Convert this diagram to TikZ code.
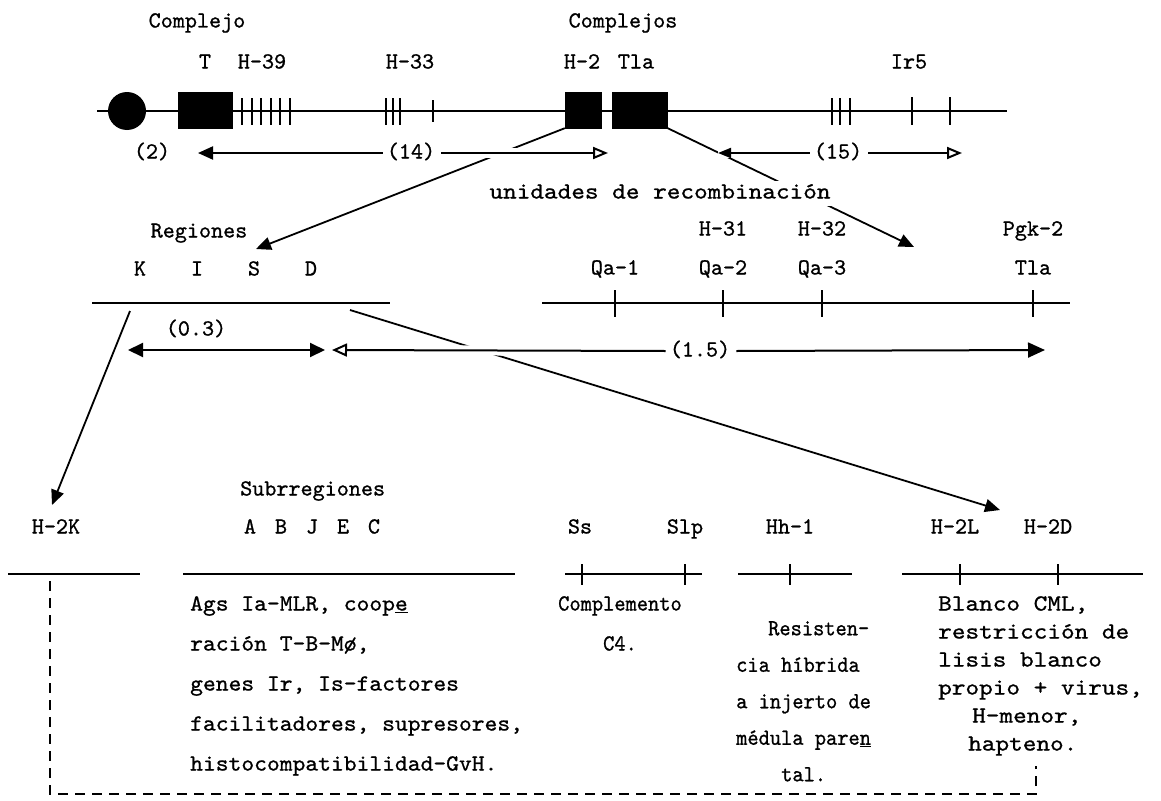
\documentclass[tikz,border=0pt]{standalone}
\usepackage{fontspec}
\usetikzlibrary{arrows.meta,backgrounds}
% typewriter faces, inked a little heavier, at several set widths
\newfontfamily\twN{lmmono10-regular.otf}[RawFeature={embolden=0.9}]
\newfontfamily\twNarrow{lmmono10-regular.otf}[FakeStretch=0.93,RawFeature={embolden=0.9}]
\newfontfamily\twWide{lmmono10-regular.otf}[FakeStretch=1.06,RawFeature={embolden=0.9}]
\newfontfamily\twWider{lmmono10-regular.otf}[FakeStretch=1.13,RawFeature={embolden=0.9}]
\begin{document}
\begin{tikzpicture}[x=1pt,y=-1pt,
  lbl/.style={font=\twN\fontsize{23}{28}\selectfont, inner sep=0pt, text height=16pt, text depth=5pt},
  blk/.style={inner sep=0pt, anchor=north west, align=left},
  chrom/.style={line width=2.4pt},
  genebox/.style={fill=black, draw=black, minimum height=36pt, inner sep=0pt},
  tickmark/.style={line width=2.6pt},
  conn/.style={line width=1.8pt},
  tipfull/.style={-{Triangle[length=15pt,width=13pt]}},
  arr/.style={line width=2pt},
  halo/.style={preaction={draw=white, line width=10pt, -}},
  dashline/.style={line width=1.6pt, dash pattern=on 10pt off 7pt}
]
\useasboundingbox (0,0) rectangle (1161,800);

% ---------- chromosome 17 ----------
\node[lbl] (cx1) at (197,22) {Complejo};
\node[lbl] (cx2) at (623,22) {Complejos};
\node[lbl] (lT)   at (205,63) {T};
\node[lbl] (lH39) at (262,63) {H-39};
\node[lbl] (lH33) at (410,63) {H-33};
\node[lbl] (lH2)  at (582,63) {H-2};
\node[lbl] (lTla) at (636,63) {Tla};
\node[lbl] (lIr5) at (909,63) {Ir5};

\draw[chrom] (97,111) -- (1007,111);
\node[circle, fill=black, minimum size=38pt, inner sep=0pt] (cen) at (127,111) {};
\node[genebox, minimum width=54pt] (gT) at (205,110) {};
\node[genebox, minimum width=36pt] (gH2) at (583,110) {};
\node[genebox, minimum width=55pt] (gTla) at (640,110) {};
\foreach \x in {242,252,261,271,280,290} \draw[tickmark] (\x,98) -- (\x,125);
\foreach \x in {386,393,400} \draw[tickmark] (\x,98) -- (\x,125);
\draw[tickmark, line width=1.6pt] (433,100) -- (433,122);
\foreach \x in {832,840,850} \draw[tickmark] (\x,98) -- (\x,125);
\foreach \x in {912,950} \draw[tickmark] (\x,97) -- (\x,125);

% distances (cM)
\node[lbl] (d2)  at (152,153) {(2)};
\node[lbl] (d14) at (411,153) {(14)};
\node[lbl] (d15) at (838,153) {(15)};
\coordinate (a14l) at (198,153);
\coordinate (a14r) at (608,153);
\coordinate (a15l) at (718,153);
\coordinate (a15r) at (962,153);

\node[lbl, font=\twWider\fontsize{23}{28}\selectfont, fill=white, inner sep=2pt] (unid) at (660,193) {unidades de recombinación};

% ---------- H-2 regions ----------
\node[lbl] (reg) at (199,232) {Regiones};
\node[lbl] (rK) at (140,270) {K};
\node[lbl] (rI) at (197,270) {I};
\node[lbl] (rS) at (254,270) {S};
\node[lbl] (rD) at (311,270) {D};
\draw[chrom] (92,303) -- (390,303);
\node[lbl] (d03) at (196,330) {(0.3)};
\coordinate (a03l) at (128,350);
\coordinate (a03r) at (325,350);
\draw[arr, {Triangle[length=15pt,width=14pt]}-{Triangle[length=15pt,width=14pt]}] (a03l) -- (a03r);

\node[lbl] (lH31) at (723,230) {H-31};
\node[lbl] (lH32) at (822,230) {H-32};
\node[lbl] (lPgk) at (1033,230) {Pgk-2};
\node[lbl] (lQa1) at (615,269) {Qa-1};
\node[lbl] (lQa2) at (723,269) {Qa-2};
\node[lbl] (lQa3) at (822,269) {Qa-3};
\node[lbl] (lTlb) at (1033,269) {Tla};
\draw[chrom] (542,303) -- (1070,303);
\foreach \x in {615,723,822,1033} \draw[tickmark] (\x,290) -- (\x,317);

\node[lbl] (d15b) at (700,351) {(1.5)};
\coordinate (a15bl) at (332,350);
\coordinate (a15br) at (1045,350);

% ---------- H-2 subregions and loci ----------
\node[lbl] (h2k) at (56,528) {H-2K};
\draw[chrom] (8,574) -- (140,574);
\node[lbl, anchor=west] (sub) at (240,490) {Subrregiones};
\foreach \c [count=\i from 0] in {A,B,J,E,C}
  \node[lbl] (sr\c) at (250+31*\i,528) {\c};
\draw[chrom] (183,574) -- (515,574);

\node[lbl] (lSs)  at (580,528) {Ss};
\node[lbl] (lSlp) at (685,528) {Slp};
\node[lbl] (lHh)  at (790,528) {Hh-1};
\node[lbl] (lH2L) at (955,528) {H-2L};
\node[lbl] (lH2D) at (1048,528) {H-2D};
\draw[chrom] (565,574) -- (702,574);
\draw[chrom] (738,574) -- (852,574);
\draw[chrom] (902,574) -- (1143,574);
\foreach \x in {582,685,790,960,1058} \draw[tickmark] (\x,564) -- (\x,585);

\node[blk, font=\twWide\fontsize{23}{40}\selectfont] (fI) at (190,596)
  {Ags Ia-MLR, coop\underline{e}\\ración T-B-M\o,\\genes Ir, Is-factores\\facilitadores, supresores,\\histocompatibilidad-GvH.};
\node[blk, font=\twNarrow\fontsize{23}{40}\selectfont, align=center, anchor=north] (fS) at (620,596)
  {Complemento\\C4.};
\node[blk, font=\twNarrow\fontsize{23}{36.5}\selectfont] (fH) at (736,621)
  {\hspace*{32pt}Resisten-\\cia híbrida\\a injerto de\\médula pare\underline{n}\\\hspace*{45pt}tal.};
\node[blk, font=\twWider\fontsize{23}{28}\selectfont] (fD) at (938,596)
  {Blanco CML,\\restricción de\\lisis blanco\\propio + virus,\\\hspace*{34pt}H-menor,\\\hspace*{30pt}hapteno.};

% connectors between levels
\coordinate (tS)   at (256,249);
\coordinate (tPgk) at (914,247);
\coordinate (kfoot) at (130,311);
\coordinate (tH2K) at (52,505);
\coordinate (dfoot) at (350,310);
\coordinate (tH2D) at (1000,510);
\begin{scope}[on background layer]
  \draw[conn, tipfull] (gH2.south west) -- (tS);
  \draw[conn, tipfull] (gTla.south east) -- (tPgk);
  \draw[conn, tipfull] (kfoot) -- (tH2K);
  \draw[conn, tipfull] (dfoot) -- (tH2D);
\end{scope}

% distance arrows, drawn over the connectors
\draw[arr, halo, {Triangle[length=15pt,width=13pt]}-] (a14l) -- ([xshift=-4pt]d14.west);
\draw[arr, halo, -{Triangle[open,length=15pt,width=12pt]}] ([xshift=6pt]d14.east) -- (a14r);
\draw[arr, halo, {Triangle[length=13pt,width=10pt]}-] (a15l) -- ([xshift=-4pt]d15.west);
\draw[arr, halo, -{Triangle[open,length=15pt,width=12pt]}] ([xshift=6pt]d15.east) -- (a15r);
\draw[arr, halo, {Triangle[open,length=15pt,width=13pt]}-] (a15bl) -- ([xshift=-4pt]d15b.west);
\draw[arr, halo, -{Triangle[length=17pt,width=15pt]}] ([xshift=6pt]d15b.east) -- (a15br);

% dashed link H-2K ... H-2D
\coordinate (dk) at (50,581);
\coordinate (de) at (1036,766);
\draw[dashline] (dk) -- (dk |- 0,794) -- (de |- 0,794) -- (de);
\end{tikzpicture}
\end{document}
